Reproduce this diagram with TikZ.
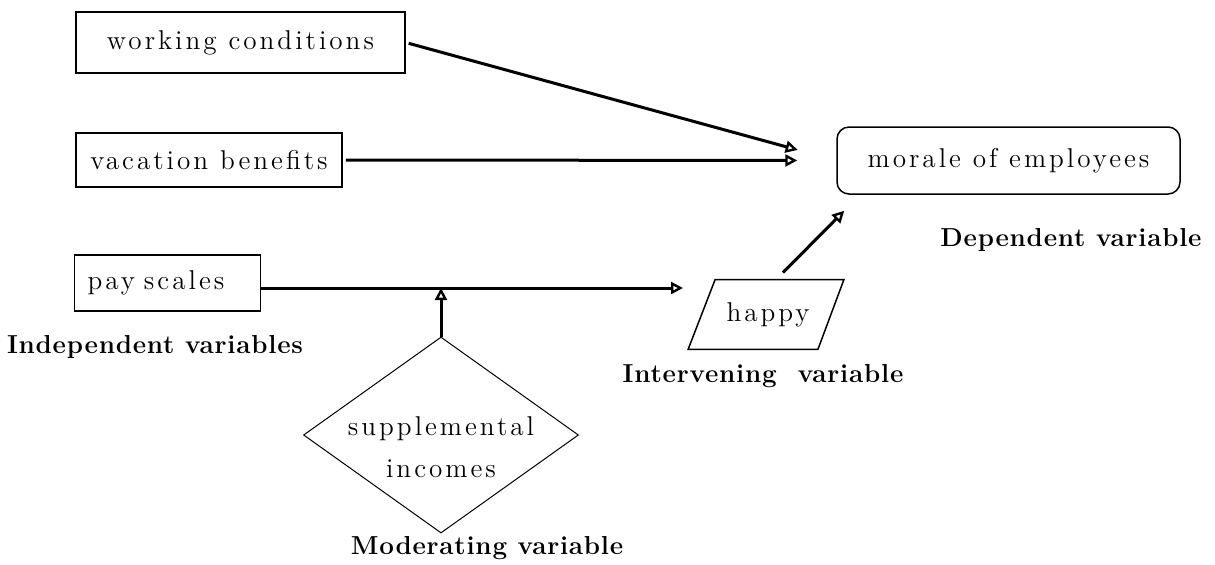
\documentclass[tikz,border=0pt]{standalone}
\usepackage{fontspec}
\usetikzlibrary{positioning,shapes.geometric,arrows.meta,calc}
\newfontfamily\boxfam{Latin Modern Roman}[LetterSpace=11]
\newfontfamily\labfam{Latin Modern Roman}[LetterSpace=3]
\newcommand\boxfont{\boxfam\fontsize{13.6}{21}\selectfont}
\newcommand\labfont{\labfam\fontsize{13}{15}\selectfont\bfseries}

\begin{document}
\begin{tikzpicture}[x=0.5pt,y=-0.5pt,
    var/.style={draw,line width=0.75pt,inner sep=0pt,font=\boxfont},
    lab/.style={inner sep=0pt,font=\labfont},
    link/.style={line width=1.5pt,-{Triangle[open,length=6pt,width=6pt,line width=1.2pt]}}]
    \useasboundingbox (0,0) rectangle (1215,564);
    \node[var,minimum width=164.5pt,minimum height=30.5pt] (wc) at (240.5,42.5) {working conditions};
    \node[var,minimum width=133pt,minimum height=27pt] (vac) at (209,160) {vacation benefits};
    \node[var,text width=80pt,inner xsep=6.5pt,minimum height=28pt,align=left] (pay) at (167.5,283) {pay scales};
    \node[var,rounded corners=6pt,minimum width=171.5pt,minimum height=33.5pt] (morale) at (1008.5,160.5) {morale of employees};
    \node[font=\boxfont,inner sep=0pt,minimum width=64.5pt,minimum height=34.5pt] (happy) at (768,314.5) {happy};
    \draw[line width=0.75pt] ($(happy.south west)+(-15,0)$) -- ($(happy.north west)+(12,0)$)
        -- ($(happy.north east)+(11,0)$) -- ($(happy.south east)+(-15,0)$) -- cycle;
    \node[draw,diamond,line width=0.5pt,inner sep=0pt,minimum width=137.5pt,minimum height=98pt] (supp) at (441,435) {};
    \node[font=\boxfont,align=center,inner sep=0pt] (supptext) at (441,447) {supplemental\\incomes};
    \node[lab] (indep) at (155,347) {Independent variables};
    \node[lab] (dep) at (1071,240) {Dependent variable};
    \node[lab] (interv) at (763,376) {Intervening\ \ variable};
    \node[lab] (moder) at (487,548) {Moderating variable};
    \coordinate (payend) at (683,288);
    \draw[link,shorten <=1.5pt,shorten >=20pt] (wc.east) -- (morale.west);
    \draw[link,shorten <=1.5pt,shorten >=19.5pt] (vac.east) -- (morale.west);
    \draw[link] (pay.east |- payend) -- (payend);
    \draw[link] (supp.north) -- (supp.north |- payend);
    \draw[link] ($(happy.north)+(15,-7)$) -- ($(morale.south west)+(8,16)$);
\end{tikzpicture}
\end{document}
